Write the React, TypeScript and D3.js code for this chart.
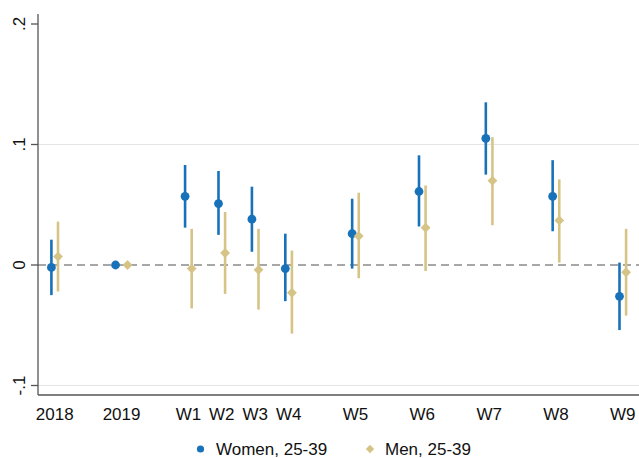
import React from "react";
import * as d3 from "d3";

const categories = ["2018", "2019", "W1", "W2", "W3", "W4", "W5", "W6", "W7", "W8", "W9"];
const positions = [0, 2, 4, 5, 6, 7, 9, 11, 13, 15, 17];

const womenEst = [-0.002, 0, 0.057, 0.051, 0.038, -0.003, 0.026, 0.061, 0.105, 0.057, -0.026];
const womenLo = [-0.025, null, 0.031, 0.025, 0.011, -0.030, -0.003, 0.032, 0.075, 0.028, -0.054];
const womenHi = [0.021, null, 0.083, 0.078, 0.065, 0.026, 0.055, 0.091, 0.135, 0.087, 0.002];

const menEst = [0.007, 0, -0.003, 0.010, -0.004, -0.023, 0.024, 0.031, 0.070, 0.037, -0.006];
const menLo = [-0.022, null, -0.036, -0.024, -0.037, -0.057, -0.011, -0.005, 0.033, 0.002, -0.042];
const menHi = [0.036, null, 0.030, 0.044, 0.030, 0.012, 0.060, 0.066, 0.106, 0.071, 0.030];

const yTicks = [-0.1, 0, 0.1, 0.2];
const yTickLabels = ["-.1", "0", ".1", ".2"];

const BLUE = "#1872b9";
const GOLD = "#d6c487";
const FONT = "Liberation Sans, Arial, Helvetica, sans-serif";

export default function App() {
  const W = 639, H = 458;
  const left = 38, right = 639, top = 14, bottom = 395;
  const x = d3.scaleLinear().domain([-0.5, 17.5]).range([left, right + 0.5]);
  const y = d3.scaleLinear().domain([-0.1, 0.2]).range([385.5, 24]);

  const diamond = d3.symbol().type(d3.symbolDiamond2).size(62)();
  const series = [
    { est: womenEst, lo: womenLo, hi: womenHi, color: BLUE, dir: -1, kind: "circle" },
    { est: menEst, lo: menLo, hi: menHi, color: GOLD, dir: 1, kind: "diamond" },
  ];

  return (
    <svg width={W} height={H} style={{ position: "absolute", left: 0, top: 0, background: "#fff" }} fontFamily={FONT}>
      {/* gridlines */}
      {yTicks.filter(t => t !== 0 && t !== 0.2).map(t => (
        <line key={"g" + t} x1={left} x2={right} y1={y(t)} y2={y(t)} stroke="#e4e4e4" strokeWidth={1.2} />
      ))}
      {/* zero dashed line */}
      <line x1={left} x2={right} y1={y(0)} y2={y(0)} stroke="#8a8a8a" strokeWidth={1.4} strokeDasharray="8,5" />
      {/* axes */}
      <line x1={left} x2={left} y1={top} y2={bottom} stroke="#555" strokeWidth={1.3} />
      <line x1={left} x2={right} y1={bottom} y2={bottom} stroke="#555" strokeWidth={1.3} />
      {yTicks.map((t, i) => (
        <g key={"yt" + t}>
          <line x1={left - 7} x2={left} y1={y(t)} y2={y(t)} stroke="#555" strokeWidth={1.3} />
          <text transform={`translate(25,${y(t)}) rotate(-90)`} textAnchor="middle" fontSize={17} fill="#111">
            {yTickLabels[i]}
          </text>
        </g>
      ))}
      {categories.map((c, i) => (
        <text key={"xl" + c} x={x(positions[i])} y={420} textAnchor="middle" fontSize={17} fill="#111">
          {c}
        </text>
      ))}
      {/* markers */}
      {series.map((s, si) => (
        <g key={"s" + si}>
          {categories.map((c, i) => {
            const off = s.lo[i] == null ? 6 : 3.3;
            const cx = x(positions[i]) + s.dir * off;
            const lo = s.lo[i], hi = s.hi[i];
            return (
              <g key={c}>
                {lo != null && hi != null && (
                  <line x1={cx} x2={cx} y1={y(lo)} y2={y(hi)} stroke={s.color} strokeWidth={2.6} />
                )}
                {s.kind === "circle" ? (
                  <circle cx={cx} cy={y(s.est[i])} r={4.4} fill={s.color} />
                ) : (
                  <path d={diamond as string} transform={`translate(${cx},${y(s.est[i])})`} fill={s.color} />
                )}
              </g>
            );
          })}
        </g>
      ))}
      {/* legend */}
      <circle cx={200.5} cy={449} r={3.6} fill={BLUE} />
      <text x={216} y={455} fontSize={17} fill="#111">Women, 25-39</text>
      <path d={d3.symbol().type(d3.symbolDiamond2).size(44)() as string} transform="translate(370,449)" fill={GOLD} />
      <text x={385} y={455} fontSize={17} fill="#111">Men, 25-39</text>
    </svg>
  );
}
